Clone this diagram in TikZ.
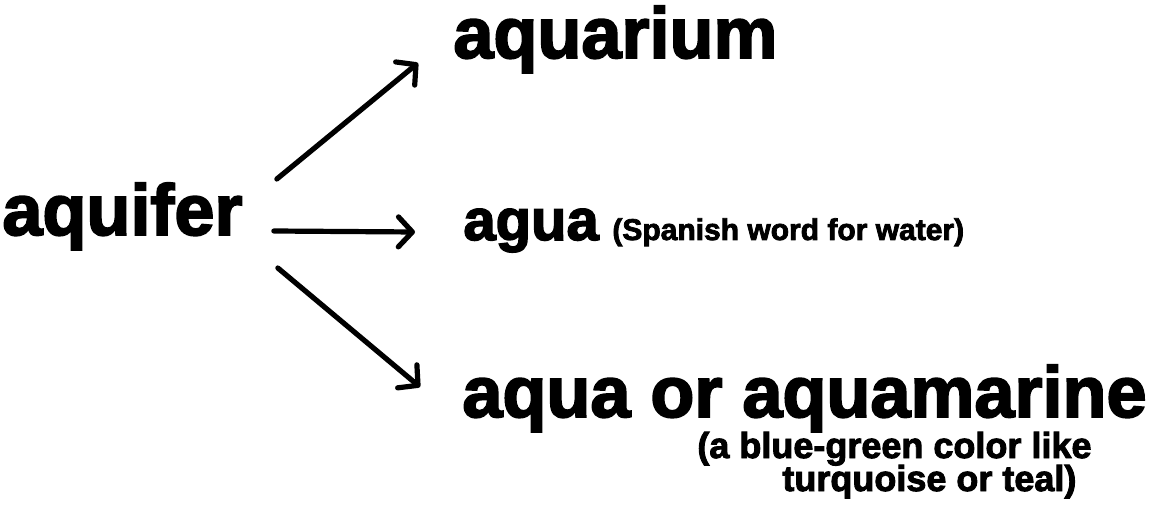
\documentclass[tikz,border=0pt]{standalone}
\usepackage{fontspec}
\usetikzlibrary{arrows.meta}
\newfontfamily\heavy[FakeBold=2.6]{Liberation Sans Bold}

\begin{document}
\begin{tikzpicture}[x=0.5pt, y=-0.5pt,
      word/.style={inner sep=0pt, anchor=base west, font=\heavy\fontsize{36pt}{40pt}\selectfont},
      gloss/.style={inner sep=0pt, anchor=base west, font=\heavy\fontsize{18pt}{20pt}\selectfont},
      arr/.style={-{Straight Barb[length=7pt, width=15pt, round]}, line width=2.6pt, line cap=round}]
    \useasboundingbox (0,0) rectangle (1166,529);
    \node[word] (aquifer) at (2,235) {aquifer};
    \node[word] (aquarium) at (453,58) {aquarium};
    \node[word, font=\heavy\fontsize{29pt}{32pt}\selectfont] (agua) at (463,240) {agua};
    \node[gloss, font=\heavy\fontsize{15pt}{18pt}\selectfont] (spanish) at (612,240) {(Spanish word for water)};
    \node[word] (aqua) at (462,417) {aqua or aquamarine};
    \node[gloss] (note1) at (697,458) {(a blue-green color like};
    \node[gloss] (note2) at (782,491) {turquoise or teal)};
    \draw[arr] ([xshift=17pt, yshift=28pt]aquifer.base east) -- ([xshift=-17.5pt, yshift=-2.5pt]aquarium.base west);
    \draw[arr] ([xshift=15.5pt, yshift=2pt]aquifer.base east) -- ([xshift=-24pt, yshift=4pt]agua.base west);
    \draw[arr] ([xshift=17.5pt, yshift=-16.5pt]aquifer.base east) -- ([xshift=-21pt, yshift=15pt]aqua.base west);
  \end{tikzpicture}
\end{document}
